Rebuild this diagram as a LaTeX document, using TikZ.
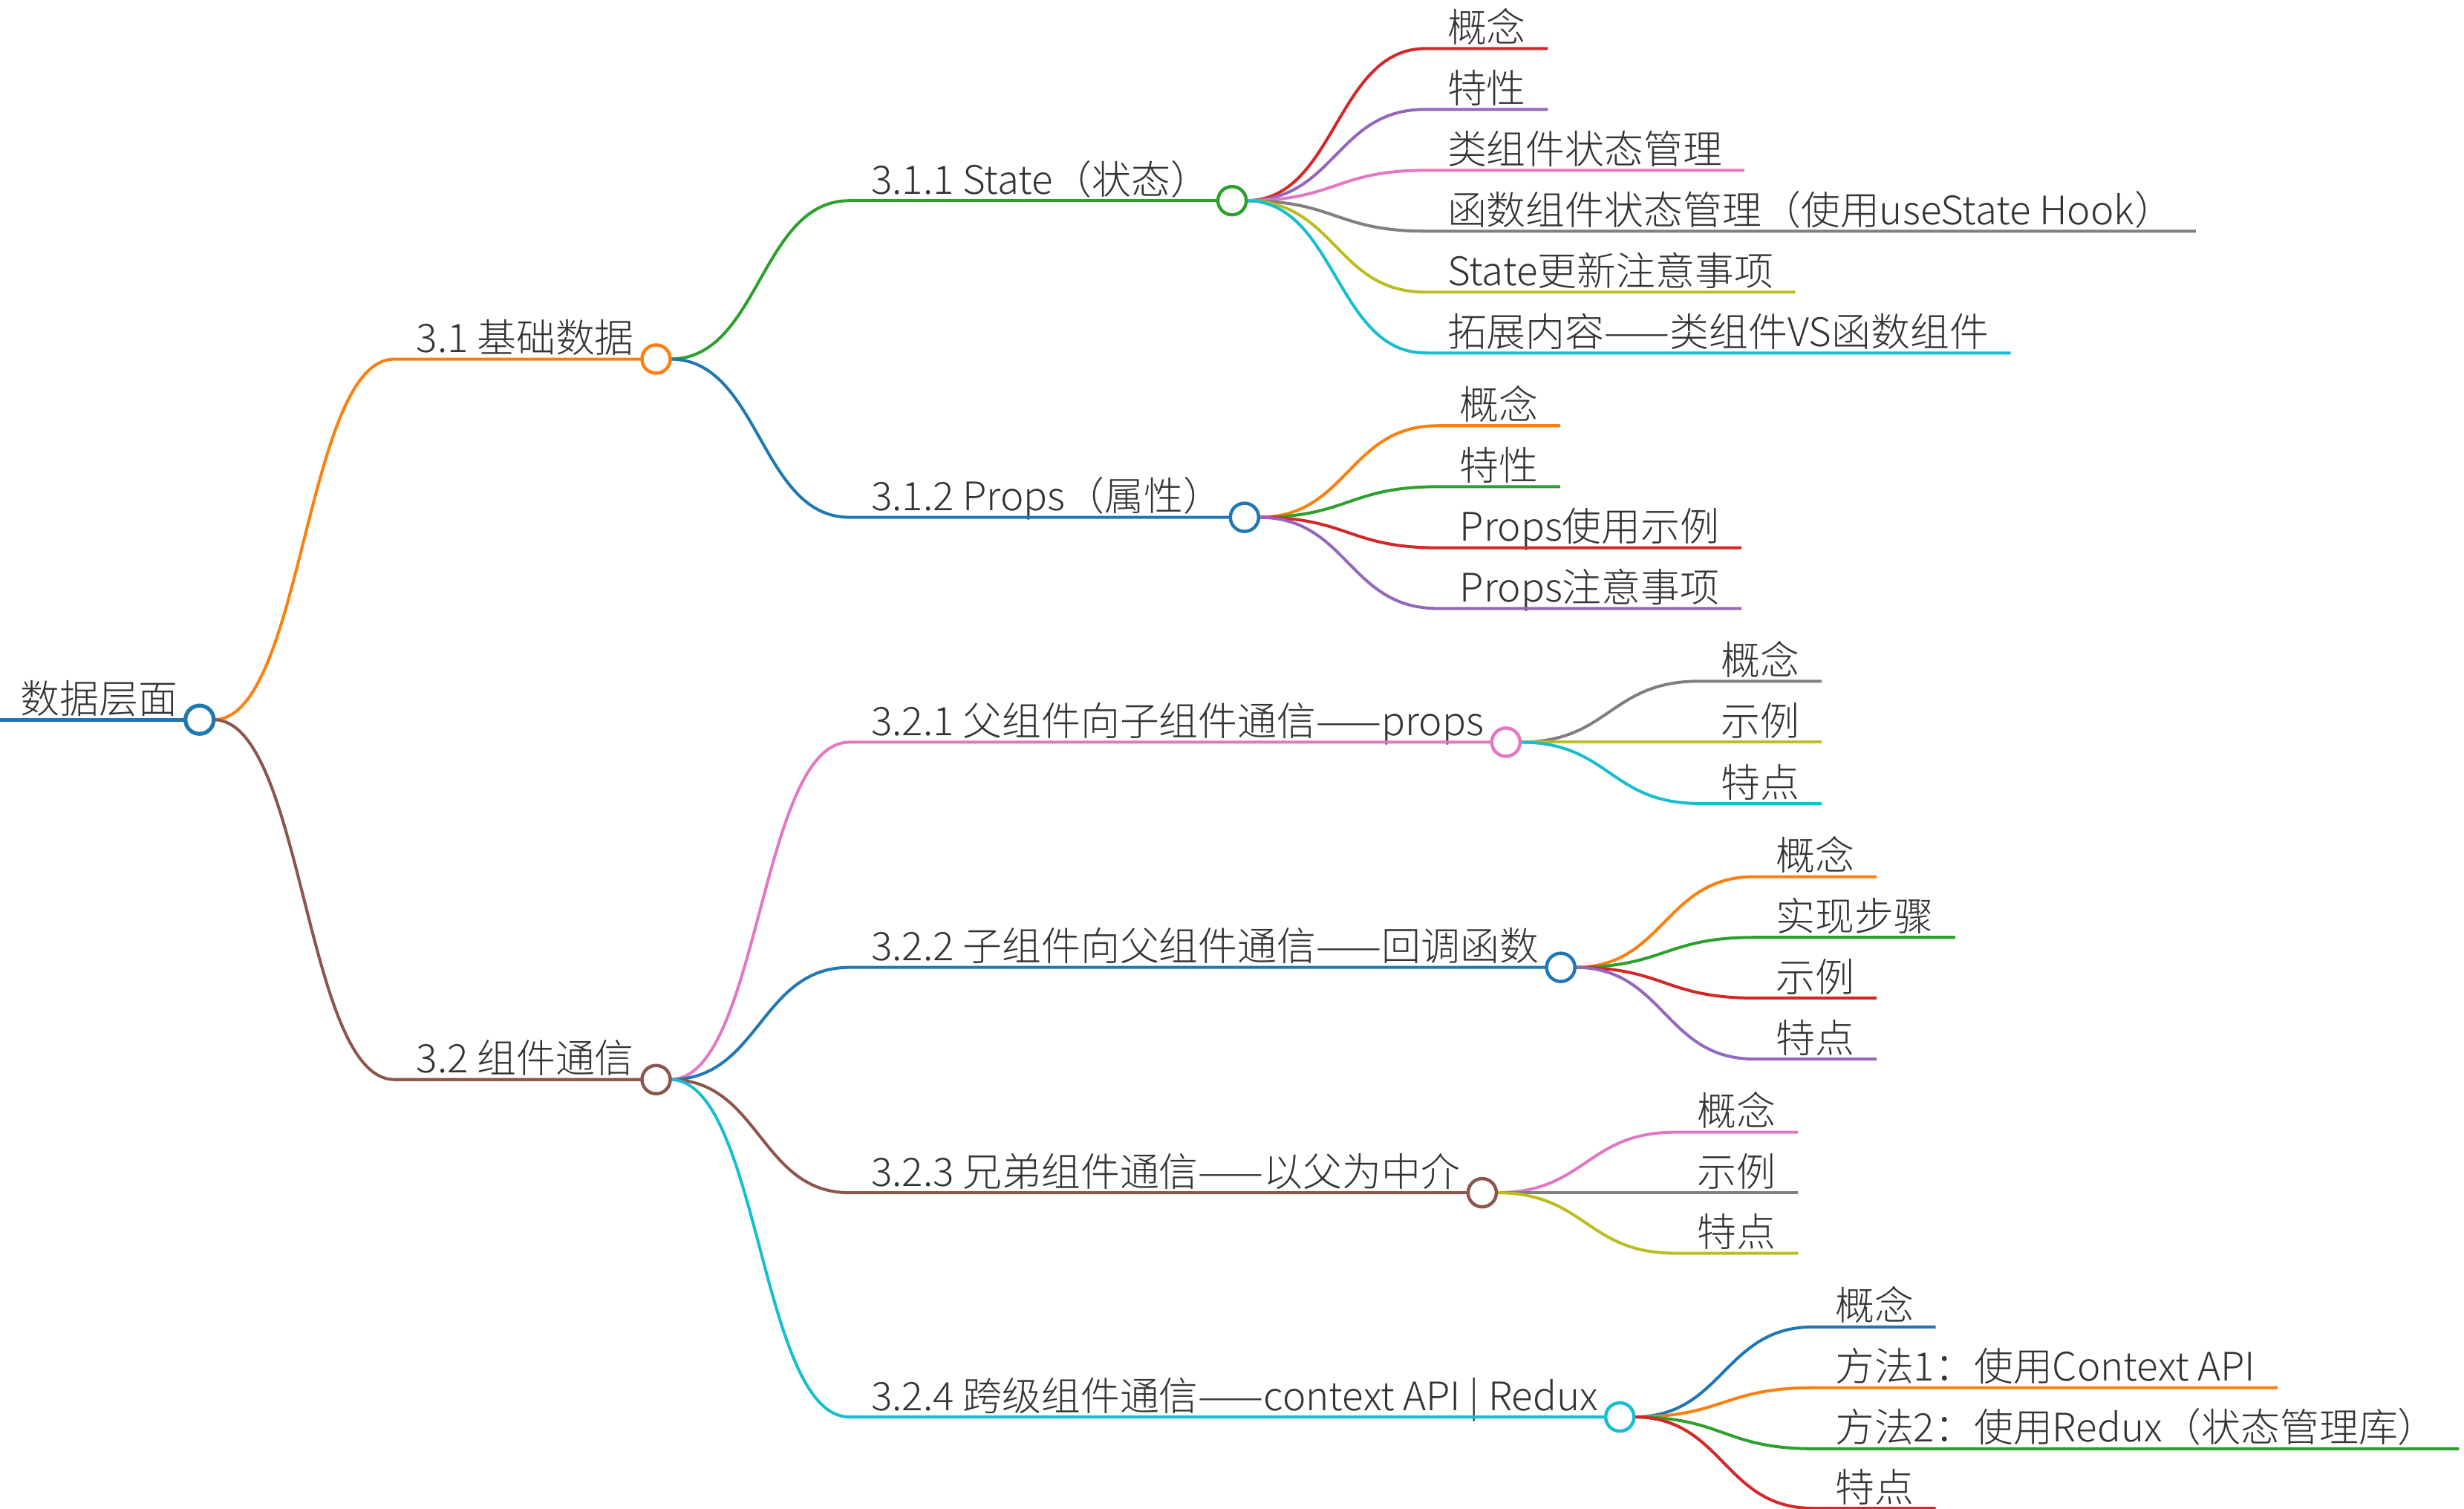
\documentclass[tikz,border=0pt]{standalone}
\usepackage{fontspec}
\setmainfont{Noto Sans CJK SC}[UprightFont={* Light}]
\usepackage{tikz}
\usetikzlibrary{calc}
\definecolor{mmblue}{HTML}{1F77B4}
\definecolor{mmorange}{HTML}{FF7F0E}
\definecolor{mmgreen}{HTML}{2CA02C}
\definecolor{mmred}{HTML}{D62728}
\definecolor{mmpurple}{HTML}{9467BD}
\definecolor{mmbrown}{HTML}{8C564B}
\definecolor{mmpink}{HTML}{E377C2}
\definecolor{mmgray}{HTML}{7F7F7F}
\definecolor{mmolive}{HTML}{BCBD22}
\definecolor{mmcyan}{HTML}{17BECF}
\definecolor{mmtext}{HTML}{333333}
\tikzset{
  mmlabel/.style={anchor=south west, inner xsep=14pt, inner ysep=4.2pt, outer sep=0pt, text depth=0pt, text=mmtext, font=\fontsize{25}{30}\selectfont},
  mmlink/.style={line width=1.9pt},
  mmdot/.style={line width=2.1pt, fill=white},
}

\begin{document}
\begin{tikzpicture}[x=1pt, y=-1pt]
\useasboundingbox (0,0) rectangle (1568,960);
% root
\node[mmlabel] (root) at (-1,458) {数据层面};
\draw[mmblue, line width=2.5pt] (root.south west) -- (root.south east);

% 3.1 / 3.2
\node[mmlabel] (base) at ($(root.south east |- 0,228.5)+(124,0)$) {3.1 基础数据};
\node[mmlabel] (comm) at ($(root.south east |- 0,687)+(124,0)$) {3.2 组件通信};
\draw[mmlink, mmorange] ([xshift=9pt]root.south east) .. controls +(57,0) and +(-57,0) .. (base.south west) -- (base.south east);
\draw[mmlink, mmbrown] ([xshift=9pt]root.south east) .. controls +(57,0) and +(-57,0) .. (comm.south west) -- (comm.south east);

% third level
\node[mmlabel] (state) at ($(base.south east |- 0,127.7)+(123,0)$) {3.1.1 State（状态）};
\node[mmlabel] (props) at ($(base.south east |- 0,329.2)+(123,0)$) {3.1.2 Props（属性）};
\draw[mmlink, mmgreen] ([xshift=9pt]base.south east) .. controls +(57,0) and +(-57,0) .. (state.south west) -- (state.south east);
\draw[mmlink, mmblue] ([xshift=9pt]base.south east) .. controls +(57,0) and +(-57,0) .. (props.south west) -- (props.south east);

\node[mmlabel] (down) at ($(comm.south east |- 0,472.3)+(123,0)$) {3.2.1 父组件向子组件通信——props};
\node[mmlabel] (up) at ($(comm.south east |- 0,615.6)+(123,0)$) {3.2.2 子组件向父组件通信——回调函数};
\node[mmlabel] (sib) at ($(comm.south east |- 0,759)+(123,0)$) {3.2.3 兄弟组件通信——以父为中介};
\node[mmlabel] (deep) at ($(comm.south east |- 0,901.7)+(123,0)$) {3.2.4 跨级组件通信——context API | Redux};
\foreach \n/\col in {down/mmpink, up/mmblue, sib/mmbrown, deep/mmcyan}
  \draw[mmlink, \col] ([xshift=9pt]comm.south east) .. controls +(57,0) and +(-57,0) .. (\n.south west) -- (\n.south east);

% leaves
\foreach \lbl/\col/\yy [count=\i] in {概念/mmred/30.9, 特性/mmpurple/69.6, 类组件状态管理/mmpink/108.4, 函数组件状态管理（使用useState Hook）/mmgray/147.1, State更新注意事项/mmolive/185.9, 拓展内容——类组件VS函数组件/mmcyan/224.6} {
  \node[mmlabel] (st\i) at ($(state.south east |- 0,\yy)+(123,0)$) {\lbl};
  \draw[mmlink, \col] ([xshift=9pt]state.south east) .. controls +(57,0) and +(-57,0) .. (st\i.south west) -- (st\i.south east);
}
\foreach \lbl/\col/\yy [count=\i] in {概念/mmorange/270.9, 特性/mmgreen/309.7, Props使用示例/mmred/348.6, Props注意事项/mmpurple/387.2} {
  \node[mmlabel] (pr\i) at ($(props.south east |- 0,\yy)+(123,0)$) {\lbl};
  \draw[mmlink, \col] ([xshift=9pt]props.south east) .. controls +(57,0) and +(-57,0) .. (pr\i.south west) -- (pr\i.south east);
}
\foreach \lbl/\col/\yy [count=\i] in {概念/mmgray/433.5, 示例/mmolive/472.3, 特点/mmcyan/511.3} {
  \node[mmlabel] (dn\i) at ($(down.south east |- 0,\yy)+(123,0)$) {\lbl};
  \draw[mmlink, \col] ([xshift=9pt]down.south east) .. controls +(57,0) and +(-57,0) .. (dn\i.south west) -- (dn\i.south east);
}
\foreach \lbl/\col/\yy [count=\i] in {概念/mmorange/557.9, 实现步骤/mmgreen/596.5, 示例/mmred/635.1, 特点/mmpurple/673.9} {
  \node[mmlabel] (up\i) at ($(up.south east |- 0,\yy)+(123,0)$) {\lbl};
  \draw[mmlink, \col] ([xshift=9pt]up.south east) .. controls +(57,0) and +(-57,0) .. (up\i.south west) -- (up\i.south east);
}
\foreach \lbl/\col/\yy [count=\i] in {概念/mmpink/720.5, 示例/mmgray/759, 特点/mmolive/797.5} {
  \node[mmlabel] (sb\i) at ($(sib.south east |- 0,\yy)+(123,0)$) {\lbl};
  \draw[mmlink, \col] ([xshift=9pt]sib.south east) .. controls +(57,0) and +(-57,0) .. (sb\i.south west) -- (sb\i.south east);
}
\foreach \lbl/\col/\yy [count=\i] in {概念/mmblue/844.4, 方法1：使用Context API/mmorange/883.1, 方法2：使用Redux（状态管理库）/mmgreen/921.9, 特点/mmred/959.8} {
  \node[mmlabel] (dp\i) at ($(deep.south east |- 0,\yy)+(123,0)$) {\lbl};
  \draw[mmlink, \col] ([xshift=9pt]deep.south east) .. controls +(57,0) and +(-57,0) .. (dp\i.south west) -- (dp\i.south east);
}

% circles on top
\draw[mmblue, mmdot, line width=2.5pt] (root.south east) circle (9);
\foreach \n/\col in {base/mmorange, comm/mmbrown, state/mmgreen, props/mmblue, down/mmpink, up/mmblue, sib/mmbrown, deep/mmcyan}
  \draw[\col, mmdot] (\n.south east) circle (9);
\end{tikzpicture}
\end{document}
